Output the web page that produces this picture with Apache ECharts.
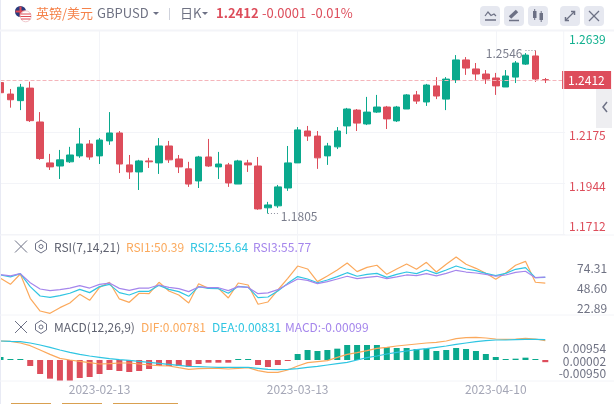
<!doctype html>
<html>
<head>
<meta charset="utf-8">
<title>GBPUSD</title>
<script src="https://cdn.jsdelivr.net/npm/echarts@6/dist/echarts.min.js"></script>
<style>
	html, body { margin: 0; padding: 0; background: #fff; }
	#main { width: 614px; height: 404px; }
</style>
</head>
<body>
<div id="main"></div>
<script>
//日期
var dates = ['2023-01-30','2023-01-31','2023-02-01','2023-02-02','2023-02-03','2023-02-06','2023-02-07','2023-02-08','2023-02-09','2023-02-10',
	'2023-02-13','2023-02-14','2023-02-15','2023-02-16','2023-02-17','2023-02-20','2023-02-21','2023-02-22','2023-02-23','2023-02-24',
	'2023-02-27','2023-02-28','2023-03-01','2023-03-02','2023-03-03','2023-03-06','2023-03-07','2023-03-08','2023-03-09','2023-03-10',
	'2023-03-13','2023-03-14','2023-03-15','2023-03-16','2023-03-17','2023-03-20','2023-03-21','2023-03-22','2023-03-23','2023-03-24',
	'2023-03-27','2023-03-28','2023-03-29','2023-03-30','2023-03-31','2023-04-03','2023-04-04','2023-04-05','2023-04-06','2023-04-07',
	'2023-04-10','2023-04-11','2023-04-12','2023-04-13','2023-04-14','2023-04-17','',''];
var labelDates = ['2023-02-13','2023-03-13','2023-04-10'];
//open close low high
var candles = [
	[1.2400,1.2354,1.2354,1.2403],[1.2348,1.2322,1.2286,1.2371],[1.2318,1.2379,1.2275,1.2394],[1.2375,1.2227,1.2221,1.2404],
	[1.2221,1.2055,1.2049,1.2266],[1.2035,1.2017,1.2003,1.2076],[1.2021,1.2049,1.1962,1.2094],[1.2040,1.2071,1.2035,1.2108],
	[1.2067,1.2121,1.2058,1.2194],[1.2121,1.2062,1.2049,1.2139],[1.2067,1.2139,1.2030,1.2148],[1.2135,1.2171,1.2117,1.2266],
	[1.2171,1.2030,1.1989,1.2180],[1.2026,1.1994,1.1962,1.2071],[1.1994,1.2044,1.1912,1.2049],[1.2044,1.2040,1.2012,1.2058],
	[1.2035,1.2112,1.1985,1.2148],[1.2112,1.2049,1.2035,1.2135],[1.2053,1.2017,1.1989,1.2071],[1.2008,1.1939,1.1926,1.2040],
	[1.1953,1.2062,1.1921,1.2067],[1.2062,1.2021,1.2017,1.2144],[1.2017,1.2030,1.1962,1.2085],[1.2026,1.1944,1.1926,1.2035],
	[1.1939,1.2044,1.1939,1.2049],[1.2035,1.2026,1.1994,1.2049],[1.2021,1.1826,1.1822,1.2062],[1.1831,1.1844,1.1805,1.1858],
	[1.1840,1.1926,1.1831,1.1935],[1.1921,1.2035,1.1908,1.2112],[1.2035,1.2185,1.2035,1.2198],[1.2180,1.2157,1.2135,1.2203],
	[1.2157,1.2058,1.2008,1.2180],[1.2067,1.2112,1.2026,1.2126],[1.2108,1.2180,1.2098,1.2198],[1.2203,1.2280,1.2166,1.2285],
	[1.2275,1.2216,1.2180,1.2280],[1.2212,1.2266,1.2207,1.2335],[1.2266,1.2289,1.2262,1.2344],[1.2289,1.2235,1.2189,1.2294],
	[1.2226,1.2289,1.2221,1.2294],[1.2280,1.2344,1.2280,1.2348],[1.2344,1.2316,1.2303,1.2362],[1.2312,1.2389,1.2294,1.2394],
	[1.2385,1.2339,1.2325,1.2425],[1.2325,1.2416,1.2275,1.2425],[1.2412,1.2503,1.2398,1.2525],[1.2503,1.2466,1.2435,1.2516],
	[1.2462,1.2439,1.2412,1.2489],[1.2439,1.2416,1.2394,1.2457],[1.2421,1.2385,1.2344,1.2444],[1.2380,1.2430,1.2380,1.2457],
	[1.2425,1.2489,1.2398,1.2498],[1.2484,1.2525,1.2480,1.2534],[1.2521,1.2416,1.2403,1.2546],[1.2413,1.2412,1.2398,1.2421]
];
var rsi1 = [54.7,49.2,58.7,36.4,24.7,22.6,27.8,32.1,40.0,34.5,46.4,51.1,35.8,32.7,41.0,40.6,51.1,43.1,39.4,32.1,49.8,45.5,45.5,36.7,50.4,48.6,30.9,33.0,
	44.0,54.7,66.0,63.3,51.7,56.9,62.4,68.8,60.9,64.8,66.7,58.4,63.3,67.9,63.0,69.4,60.5,67.6,74.3,67.6,63.9,59.3,53.8,59.6,66.7,70.3,51.1,50.39];
var rsi2 = [57.8,56.0,59.0,47.1,38.5,37.3,38.8,41.0,44.6,41.6,47.1,49.2,41.6,39.4,42.8,42.8,48.3,44.6,42.5,38.2,47.1,45.5,45.2,41.0,47.4,46.4,37.0,37.6,
	43.1,50.1,56.3,54.1,50.7,53.2,56.3,59.9,56.6,58.4,59.3,55.6,58.4,60.5,59.0,62.4,59.0,62.4,66.0,63.3,61.8,59.3,57.2,59.3,63.0,64.5,55.3,55.64];
var rsi3 = [58.1,56.9,59.0,50.7,44.9,43.4,44.3,45.8,48.0,45.8,49.2,50.4,45.5,43.7,45.8,45.8,48.6,46.4,45.2,42.5,46.8,46.1,46.1,43.4,47.1,46.4,40.6,41.3,
	44.3,49.2,54.1,52.9,49.8,51.7,54.1,56.6,54.4,55.6,56.6,54.4,56.0,57.8,57.2,59.0,56.9,59.3,62.1,60.5,59.6,58.4,56.6,57.8,60.2,61.2,55.3,55.77];
var dif = [.0086,.00844,.00769,.00648,.00452,.00256,.00075,0,-.0006,-.00121,-.00181,-.00166,-.00136,-.00136,-.00181,-.00226,-.00256,-.00271,-.00347,-.00422,
	-.00392,-.00377,-.00377,-.00407,-.00377,-.00347,-.00483,-.00558,-.00558,-.00452,-.00271,-.00121,-.00075,-.0003,.00121,.00256,.00332,.00422,.00528,.00573,
	.00633,.00679,.00724,.00769,.00799,.0086,.00965,.0101,.01025,.00995,.0095,.00935,.0095,.0098,.0095,.00875];
var dea = [.0086,.00844,.00829,.00769,.00679,.00573,.00452,.00347,.00256,.00181,.00121,.0006,.00015,-.00015,-.0006,-.00106,-.00151,-.00196,-.00241,-.00287,
	-.00302,-.00317,-.00332,-.00332,-.00332,-.00332,-.00377,-.00422,-.00437,-.00422,-.00392,-.00332,-.00287,-.00226,-.00166,-.00106,0,.00106,.00181,.00271,
	.00347,.00407,.00467,.00513,.00573,.00633,.00709,.00769,.00829,.00875,.00905,.00905,.0092,.00935,.00935,.0092];
var macd = [.00136,.00015,.00015,-.00271,-.00633,-.00844,-.0095,-.0095,-.00814,-.00769,-.00633,-.00452,-.00498,-.00543,-.00498,-.00407,-.00271,-.00271,-.00271,-.00317,
	-.00181,-.00121,-.00121,-.00121,.00015,.00015,-.00226,-.00317,-.00226,-.00015,.00271,.00452,.00407,.00452,.00513,.00679,.00679,.00679,.00679,.00588,
	.00543,.00543,.00498,.00513,.00407,.00452,.00543,.00498,.00407,.00271,.00136,.00045,.0006,.00106,.00015,-.00099];
//刻度
var priceTicks = [1.2639,1.2175,1.1944,1.1712];
var rsiTicks = [74.31,48.60,22.89];
var macdTicks = [0.00954,0.00002,-0.00950];
var lastPrice = 1.2412, highPrice = 1.2546, lowPrice = 1.1805;

var FONT = '"Noto Sans CJK SC", "Noto Sans", sans-serif';
var RED = '#dd4d5b', GREEN = '#0aa98d', ORANGE = '#fba95c', CYAN = '#2fc5e2', PURPLE = '#a586ec';
var GRID = '#f3f4f8', TEXT = '#6f7283', ICON = '#6d7185';

var chart = echarts.init(document.getElementById('main'), null, { renderer: 'canvas' });

function showDate(i) { return labelDates.indexOf(dates[i]) >= 0; }

function txt(x, y, s, color, size, weight, align) {
	return { type: 'text', x: x, y: y, z: 20, silent: true,
		style: { text: s, fill: color, font: (weight || 'normal') + ' ' + (size || 12) + 'px ' + FONT, textVerticalAlign: 'middle', textAlign: align || 'left' } };
}
function seg(x1, y1, x2, y2, color, w) {
	return { type: 'line', z: 20, silent: true, shape: { x1: x1, y1: y1, x2: x2, y2: y2 }, style: { stroke: color, lineWidth: w || 1 } };
}
function poly(points, color, w) {
	return { type: 'polyline', z: 20, silent: true, shape: { points: points }, style: { stroke: color, lineWidth: w || 1, fill: null } };
}
function box(x, y, w, h, color, r) {
	return { type: 'rect', z: 19, silent: true, shape: { x: x, y: y, width: w, height: h, r: r || 0 }, style: { fill: color } };
}
function circle(x, y, r, fill, stroke) {
	return { type: 'circle', z: 20, silent: true, shape: { cx: x, cy: y, r: r }, style: { fill: fill, stroke: stroke || null } };
}
function paneIcons(y) {
	return [
		seg(15, y - 6, 27, y + 6, ICON), seg(27, y - 6, 15, y + 6, ICON),
		poly([[41, y - 6.5], [46.5, y - 3], [46.5, y + 3], [41, y + 6.5], [35.5, y + 3], [35.5, y - 3], [41, y - 6.5]], ICON),
		circle(41, y, 2, 'none', ICON)
	];
}

var graphics = [
	box(0, 0, 1, 404, '#e8eaf4'),
	//分隔线
	seg(0, 30.5, 614, 30.5, GRID, 2), seg(0, 235, 614, 235, GRID, 1), seg(0, 315, 614, 315, GRID, 1), seg(0, 381, 614, 381, GRID, 1),
	seg(563.7, 30, 563.7, 235, GRID, 1),
	//国旗
	circle(20.5, 11.5, 5.5, '#2a3b7d'), seg(15.5, 11.5, 25.5, 11.5, '#e04a55', 2), seg(20.5, 6.5, 20.5, 16.5, '#e04a55', 2),
	circle(25.7, 16.3, 5.5, '#ffffff', '#f0c8cc'), seg(20.6, 14, 30.8, 14, '#e04a55', 1), seg(20.4, 16.5, 31, 16.5, '#e04a55', 1), seg(21, 19, 30.4, 19, '#e04a55', 1),
	//标题
	txt(36, 13, '英镑/美元', '#f5824a', 13),
	txt(97, 13, 'GBPUSD', '#6f7283', 13),
	{ type: 'polygon', z: 20, silent: true, shape: { points: [[153, 12], [159, 12], [156, 15]] }, style: { fill: ICON } },
	seg(169.5, 8, 169.5, 20, '#cfd2dc', 1),
	txt(180, 13, '日K', '#6f7283', 13),
	{ type: 'polygon', z: 20, silent: true, shape: { points: [[202, 12], [208, 12], [205, 15]] }, style: { fill: ICON } },
	txt(216, 13, '1.2412', RED, 13, 'bold'),
	txt(262, 13, '-0.0001', RED, 13),
	txt(311, 13, '-0.01%', RED, 13),
	//按钮
	box(480, 6, 20, 20, '#e6e8f0', 4), box(504, 6, 20, 20, '#e6e8f0', 4), box(528, 6, 20, 20, '#e6e8f0', 4), box(560, 6, 20, 20, '#e6e8f0', 4), box(584, 6, 20, 20, '#e6e8f0', 4),
	poly([[485, 16], [488, 12], [491, 15.5], [494, 14], [496, 16]], ICON, 1.2), seg(485, 20, 496, 20, ICON, 1.5),
	seg(510, 17.5, 517, 11, ICON, 3.5), seg(509, 20.5, 519, 20.5, ICON, 1.5),
	box(533, 11, 3.5, 7, ICON), seg(534.7, 9, 534.7, 20, ICON, 1), box(539.5, 13, 3.5, 7, ICON), seg(541.2, 11, 541.2, 22, ICON, 1),
	seg(565.5, 20.5, 574.5, 11.5, ICON, 1.2), poly([[571, 11.5], [574.5, 11.5], [574.5, 15]], ICON, 1.5), poly([[565.5, 17], [565.5, 20.5], [569, 20.5]], ICON, 1.5),
	seg(589, 11, 599, 21, ICON, 1.2), seg(599, 11, 589, 21, ICON, 1.2),
	//右侧收起
	box(596, 89, 16, 39, '#eeeef1'),
	poly([[607, 102], [603, 107], [607, 112]], ICON, 1.5),
	//指标标题
	txt(54, 247, 'RSI(7,14,21)', '#5f6270', 12),
	txt(126, 247, 'RSI1:50.39', ORANGE, 12),
	txt(190, 247, 'RSI2:55.64', CYAN, 12),
	txt(253, 247, 'RSI3:55.77', PURPLE, 12),
	txt(54, 327.5, 'MACD(12,26,9)', '#5f6270', 12),
	txt(141, 327.5, 'DIF:0.00781', ORANGE, 12),
	txt(212, 327.5, 'DEA:0.00831', CYAN, 12),
	txt(285, 327.5, 'MACD:-0.00099', PURPLE, 12),
	//底部
	box(11, 403, 40, 1, '#d9a050'), box(62, 403, 40, 1, '#d9a050'), box(113, 403, 65, 1, '#d9a050')
].concat(paneIcons(246.5), paneIcons(327));

function xAxisOf(gridIndex, showLabel) {
	return {
		type: 'category', gridIndex: gridIndex, data: dates, boundaryGap: false,
		axisLine: { show: false }, axisTick: { show: false },
		axisLabel: { show: showLabel, interval: function (i) { return showDate(i); }, color: '#a4a6b6', fontSize: 12, fontFamily: FONT, margin: 2 },
		splitLine: { show: true, interval: function (i) { return showDate(i); }, lineStyle: { color: GRID, width: 1 } }
	};
}
//标签相对刻度的偏移用rich的padding处理
function richOf(offsets, colors) {
	var rich = {};
	offsets.forEach(function (o, i) {
		rich['p' + i] = { color: colors[i], fontSize: 12, fontFamily: FONT, padding: o >= 0 ? [o * 2, 0, 0, 0] : [0, 0, o * -2, 0] };
	});
	return rich;
}

var option = {
	animation: false,
	backgroundColor: '#fff',
	graphic: { elements: graphics },
	grid: [
		{ left: 0.5, top: 30, width: 564.6, height: 204, outerBoundsMode: 'none' },
		{ left: 0.5, top: 235, width: 564.6, height: 80, outerBoundsMode: 'none' },
		{ left: 0.5, top: 315, width: 564.6, height: 66, outerBoundsMode: 'none' }
	],
	xAxis: [xAxisOf(0, false), xAxisOf(1, false), xAxisOf(2, true)],
	yAxis: [
		{
			type: 'value', gridIndex: 0, position: 'right', min: 1.1712, max: 1.2639,
			axisLine: { show: false },
			axisTick: { show: false, customValues: priceTicks },
			splitLine: { show: true, lineStyle: { color: GRID, width: 1 } },
			axisLabel: {
				customValues: priceTicks, margin: 4, align: 'left', showMinLabel: true, showMaxLabel: true,
				formatter: function (v) { return '{p' + priceTicks.indexOf(v) + '|' + v.toFixed(4) + '}'; },
				rich: richOf([9.5, 3, 3.7, -8], ['#12b08f', RED, RED, RED])
			}
		},
		{
			type: 'value', gridIndex: 1, position: 'right', min: 21.05, max: 94.5,
			axisLine: { show: false },
			axisTick: { show: false, customValues: rsiTicks },
			splitLine: { show: false },
			axisLabel: {
				customValues: rsiTicks, margin: 42, align: 'right', showMinLabel: true, showMaxLabel: true,
				formatter: function (v) { return '{p' + rsiTicks.indexOf(v) + '|' + v.toFixed(2) + '}'; },
				rich: richOf([11, 3, -5], [TEXT, TEXT, TEXT])
			}
		},
		{
			type: 'value', gridIndex: 2, position: 'right', min: -0.0095, max: 0.02036,
			axisLine: { show: false },
			axisTick: { show: false, customValues: macdTicks },
			splitLine: { show: false },
			axisLabel: {
				customValues: macdTicks, margin: 41, align: 'right', showMinLabel: true, showMaxLabel: true,
				formatter: function (v) { return '{p' + macdTicks.indexOf(v) + '|' + v.toFixed(5) + '}'; },
				rich: richOf([10, 1, -8], [TEXT, TEXT, TEXT])
			}
		}
	],
	series: [
		{
			name: 'K', type: 'candlestick', xAxisIndex: 0, yAxisIndex: 0, data: candles, barWidth: 7, silent: true,
			itemStyle: { color: GREEN, color0: RED, borderColor: GREEN, borderColor0: RED, borderWidth: 1 },
			markLine: {
				silent: true, symbol: 'none', animation: false, precision: 4,
				data: [
					{
						yAxis: lastPrice,
						lineStyle: { color: '#f5b5bb', type: 'dashed', width: 1 },
						label: {
							position: 'end', distance: -3, formatter: lastPrice.toFixed(4), color: '#fff', fontSize: 12, fontFamily: FONT,
							backgroundColor: RED, width: 38, height: 18, lineHeight: 18, padding: [0, 5, 0, 6]
						}
					},
					[{ coord: [53, highPrice], lineStyle: { color: '#8a8d9c', type: [1, 2], width: 1 }, label: { show: false } }, { coord: [54, highPrice] }],
					[{ coord: [27, lowPrice], lineStyle: { color: '#8a8d9c', type: [1, 2], width: 1 }, label: { show: false } }, { coord: [28, lowPrice] }]
				]
			},
			markPoint: {
				silent: true, symbol: 'circle', symbolSize: 0, animation: false,
				label: { color: '#7a7d8c', fontSize: 12, fontFamily: FONT },
				data: [
					{ coord: [53, highPrice], label: { position: 'left', distance: 3, offset: [0, 3], formatter: highPrice.toFixed(4) } },
					{ coord: [28, lowPrice], label: { position: 'right', distance: 3, offset: [0, 3], formatter: lowPrice.toFixed(4) } }
				]
			}
		},
		{ name: 'RSI1', type: 'line', xAxisIndex: 1, yAxisIndex: 1, data: rsi1, showSymbol: false, silent: true, lineStyle: { color: ORANGE, width: 1.2 } },
		{ name: 'RSI2', type: 'line', xAxisIndex: 1, yAxisIndex: 1, data: rsi2, showSymbol: false, silent: true, lineStyle: { color: CYAN, width: 1.2 } },
		{ name: 'RSI3', type: 'line', xAxisIndex: 1, yAxisIndex: 1, data: rsi3, showSymbol: false, silent: true, lineStyle: { color: PURPLE, width: 1.2 } },
		{
			name: 'MACD', type: 'bar', xAxisIndex: 2, yAxisIndex: 2, data: macd, barWidth: 6, barMinHeight: 1, silent: true,
			itemStyle: { color: function (p) { return p.value >= 0 ? GREEN : RED; } }
		},
		{ name: 'DIF', type: 'line', xAxisIndex: 2, yAxisIndex: 2, data: dif, showSymbol: false, silent: true, z: 3, lineStyle: { color: ORANGE, width: 1.2 } },
		{ name: 'DEA', type: 'line', xAxisIndex: 2, yAxisIndex: 2, data: dea, showSymbol: false, silent: true, z: 3, lineStyle: { color: CYAN, width: 1.2 } }
	]
};
chart.setOption(option);
</script>
</body>
</html>
